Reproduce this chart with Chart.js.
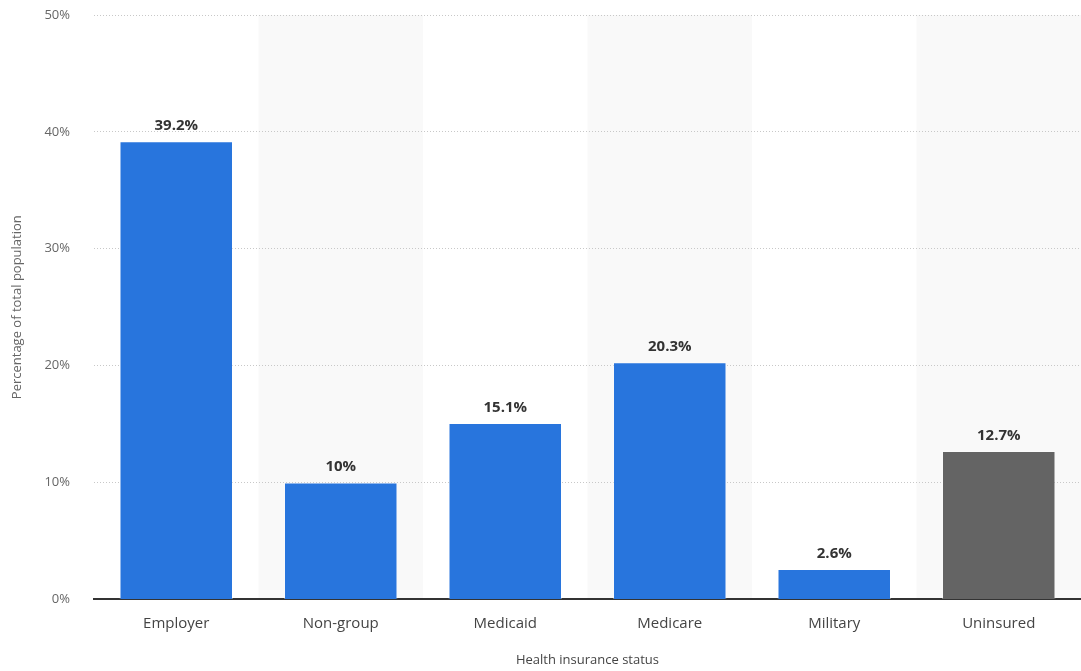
<!DOCTYPE html>
<html>
<head>
<meta charset="utf-8">
<script src="https://cdn.jsdelivr.net/npm/chart.js@4.4.0/dist/chart.umd.min.js"></script>
<style>
  html, body { margin: 0; padding: 0; background: #fff; }
  #wrap { width: 1081px; height: 671px; }
</style>
</head>
<body>
<div id="wrap"><canvas id="insChart"></canvas></div>
<script>
const categories = ["Employer", "Non-group", "Medicaid", "Medicare", "Military", "Uninsured"];
const shares = [39.2, 10, 15.1, 20.3, 2.6, 12.7];
const barColors = ["#2875dd", "#2875dd", "#2875dd", "#2875dd", "#2875dd", "#646464"];
const yTicks = [0, 10, 20, 30, 40, 50];

// light bands behind every second column
const bandPlugin = {
  id: "bands",
  beforeDraw(chart) {
    const { ctx, chartArea, scales } = chart;
    const x = scales.x;
    const step = x.width / categories.length;
    ctx.save();
    ctx.fillStyle = "#f9f9f9";
    categories.forEach((c, i) => {
      if (i % 2 === 1) {
        const cx = x.getPixelForValue(i);
        ctx.fillRect(cx - step / 2, chartArea.top, step, chartArea.bottom - chartArea.top);
      }
    });
    ctx.restore();
  },
};

// value labels above the bars
const labelPlugin = {
  id: "barLabels",
  afterDatasetsDraw(chart) {
    const { ctx } = chart;
    const meta = chart.getDatasetMeta(0);
    ctx.save();
    ctx.font = "bold 15px 'Open Sans'";
    ctx.fillStyle = "#333";
    ctx.textAlign = "center";
    ctx.textBaseline = "bottom";
    meta.data.forEach((bar, i) => {
      ctx.fillText(shares[i] + "%", bar.x, bar.y - 8);
    });
    ctx.restore();
  },
};

new Chart(document.getElementById("insChart").getContext("2d"), {
  type: "bar",
  data: {
    labels: categories,
    datasets: [{
      data: shares,
      backgroundColor: barColors,
      borderColor: "rgba(255,255,255,0.35)",
      borderWidth: 1,
      categoryPercentage: 1,
      barPercentage: 0.69,
    }],
  },
  options: {
    responsive: true,
    maintainAspectRatio: false,
    animation: false,
    layout: { padding: { top: 15, right: 0, left: 9, bottom: 0 } },
    plugins: {
      legend: { display: false },
      tooltip: { enabled: false },
    },
    scales: {
      x: {
        grid: { display: false },
        border: { display: true, color: "#333", width: 2 },
        ticks: { color: "#444", font: { family: "Open Sans", size: 15 }, padding: 7 },
        title: {
          display: true,
          text: "Health insurance status",
          color: "#444",
          font: { family: "Open Sans", size: 13 },
          padding: { top: 13, bottom: 3 },
        },
      },
      y: {
        min: 0,
        max: 50,
        afterBuildTicks(scale) {
          scale.ticks = yTicks.map((v) => ({ value: v }));
        },
        afterFit(scale) {
          scale.width = 85;
          scale.paddingTop = 0;
        },
        grid: { color: "#c8c8c8", drawTicks: false },
        border: { display: false, dash: [1, 2] },
        ticks: {
          color: "#666",
          font: { family: "Open Sans", size: 13 },
          padding: 24,
          callback: (v) => v + "%",
        },
        title: {
          display: true,
          text: "Percentage of total population",
          color: "#666",
          font: { family: "Open Sans", size: 13 },
          padding: { top: 0, bottom: 0 },
        },
      },
    },
  },
  plugins: [bandPlugin, labelPlugin],
});
</script>
</body>
</html>
